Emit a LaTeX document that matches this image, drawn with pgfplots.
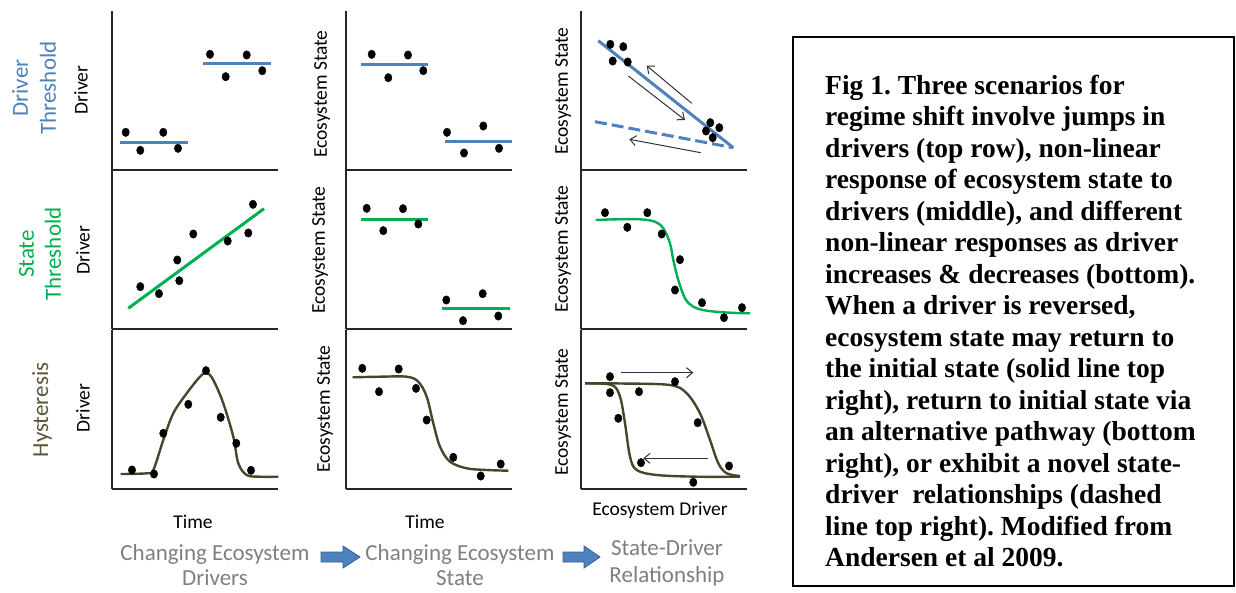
\documentclass[border=0pt]{standalone}
\usepackage{fontspec}
\setmainfont{Carlito}
\newfontfamily\tnr{Liberation Serif}
\usepackage{pgfplots}
\pgfplotsset{compat=1.18}
\usetikzlibrary{arrows.meta}
\definecolor{oblue}{HTML}{4F81BD}
\definecolor{oblueD}{HTML}{385D8A}
\definecolor{ogreen}{HTML}{00B050}
\definecolor{olive}{HTML}{4A452A}
\definecolor{olivet}{HTML}{5C5638}
\definecolor{tgray}{HTML}{7F7F7F}
\pgfplotsset{
  panel/.style={scale only axis, width=166pt, height=159pt,
    xmin=0, xmax=166, ymin=0, ymax=159,
    axis x line=bottom, axis y line=left,
    axis line style={-, line width=1.8pt, black!85},
    xtick=\empty, ytick=\empty, clip=false, anchor=south west},
  dots/.style={only marks, mark=*, mark size=3.7pt, black, mark options={yscale=1.15}},
  fitline/.style={no marks, line width=3pt},
  curve/.style={no marks, smooth, tension=0.55, line width=2.4pt, olive},
  thinarrow/.style={no marks, line width=1pt, black!80, -{Straight Barb[length=6pt,width=10pt]}}
}
\newcommand{\axlab}[3]{\node[rotate=90, font=\fontsize{19.5pt}{23pt}\selectfont] at (#1pt,-#2pt) {#3};}
\newcommand{\flowtext}[3]{\node[anchor=base, inner sep=0pt, text=tgray, font=\fontsize{23pt}{28pt}\selectfont] at (#1pt,-#2pt) {#3};}
\begin{document}
\frenchspacing
\begin{tikzpicture}
\useasboundingbox (0pt,0pt) rectangle (1236pt,-592pt);
% ---------------- Row 1 ----------------
\begin{axis}[panel, at={(112pt,-170pt)}]
\addplot[dots] coordinates {(13.7,37.7) (28.3,19.7) (51.3,37.7) (66,21.7) (98,115.7) (113.7,93.3) (134.7,115) (150.3,99.3)};
\addplot[fitline, oblue] coordinates {(8,28) (76.3,28)};
\addplot[fitline, oblue] coordinates {(91.3,106.7) (158.7,106.7)};
\end{axis}
\begin{axis}[panel, at={(346pt,-170pt)}]
\addplot[dots] coordinates {(25.7,115.7) (42.3,92.3) (62,115) (77.3,99.3) (101,37.7) (118,17) (137.3,44) (153,21.7)};
\addplot[fitline, oblue] coordinates {(14.7,106) (82.3,106)};
\addplot[fitline, oblue] coordinates {(99,28.3) (166.3,28.3)};
\end{axis}
\begin{axis}[panel, at={(581pt,-170pt)}]
\addplot[fitline, oblue] coordinates {(17.3,129.3) (152.3,22.3)};
\addplot[fitline, oblue, dash pattern=on 12pt off 5pt] coordinates {(14,48.3) (152.3,22.3)};
\addplot[thinarrow] coordinates {(47.3,94) (104,50)};
\addplot[thinarrow] coordinates {(110.7,66.7) (65.7,104.3)};
\addplot[thinarrow] coordinates {(119.7,17.3) (48.3,30.7)};
\addplot[dots] coordinates {(29.3,125.7) (42.3,123.3) (31.7,109) (46.7,108) (129.3,47.3) (138.3,42.3) (125,39) (131.7,32.3)};
\end{axis}
% ---------------- Row 2 ----------------
\begin{axis}[panel, at={(112pt,-329pt)}]
\addplot[fitline, ogreen] coordinates {(16.3,20.7) (152,120.3)};
\addplot[dots] coordinates {(28.3,42.3) (47,35.3) (67.3,48.3) (65.3,69) (81.3,95) (115.7,88) (136.3,96) (141,124.7)};
\end{axis}
\begin{axis}[panel, at={(346pt,-329pt)}]
\addplot[fitline, ogreen] coordinates {(15,109.7) (82.3,109.7)};
\addplot[fitline, ogreen] coordinates {(96.3,20.3) (164,20.3)};
\addplot[dots] coordinates {(20.7,120.7) (37.3,98.3) (57,120.3) (72.3,105) (100.3,29) (117,8.3) (136.7,35.3) (152.3,13)};
\end{axis}
\begin{axis}[panel, at={(581pt,-329pt)}]
\addplot[curve, ogreen] coordinates {(14.7,109) (35.7,109.7) (59,109.7) (74,107.3) (82.3,100.7) (89,85.7) (92.3,69) (97.3,49) (104,30.7) (112.3,22.3) (125.7,18.3) (149,16.3) (169,15.7)};
\addplot[dots] coordinates {(24,116.3) (46.3,101.7) (66.3,116.3) (80.7,95) (99,69.3) (94,39) (121,26.3) (143,11.3) (161,21.3)};
\end{axis}
% ---------------- Row 3 ----------------
\begin{axis}[panel, at={(112pt,-489pt)}]
\addplot[curve] coordinates {(8.7,15) (34.7,15.7) (41.3,19) (51.3,49) (61.3,75.7) (74.7,95.7) (88,112.3) (94.7,116.3) (101.3,109) (111.3,85.7) (121.3,52.3) (126.3,25.7) (134.7,14) (148,12.3) (166.3,12.3)};
\addplot[dots] coordinates {(20,19) (42,15) (51.3,55.7) (76.3,84.7) (94,118.3) (108.7,71.7) (124.3,45.7) (139,18.7)};
\end{axis}
\begin{axis}[panel, at={(346pt,-489pt)}]
\addplot[curve] coordinates {(6.7,111.7) (34,112.3) (60.7,112.3) (72.3,107.3) (80.7,92.3) (87.3,65.7) (94,42.3) (104,27.3) (120.7,20.7) (140.7,19) (162.3,18.3)};
\addplot[dots] coordinates {(16.3,120.7) (33,97.3) (52.7,120) (70,100.7) (80.7,69) (107.3,31.7) (134.7,13) (154.7,25)};
\end{axis}
\begin{axis}[panel, at={(581pt,-489pt)}]
\addplot[curve] coordinates {(4,105.7) (40,105.5) (89,104) (105.7,95.7) (119,75.7) (129,49) (137.3,25.7) (145.7,15.7) (159,13)};
\addplot[curve] coordinates {(4,105.7) (30.7,104) (39,92.3) (44,65.7) (49,32.3) (55.7,19) (75.7,14) (115.7,12.3) (159,12.3)};
\addplot[thinarrow] coordinates {(39.7,116.3) (112.3,116.3)};
\addplot[thinarrow] coordinates {(127.3,30.7) (62.3,30.7)};
\addplot[dots] coordinates {(29,112.3) (29,96.3) (37.3,70.7) (58,97.3) (94,107.3) (116.7,66.3) (60,26.3) (148,23) (112.3,6.7)};
\end{axis}
% ---------------- axis labels ----------------
\axlab{81}{90}{Driver}
\axlab{322}{94}{Ecosystem State}
\axlab{563}{91}{Ecosystem State}
\axlab{83}{250}{Driver}
\axlab{320}{250}{Ecosystem State}
\axlab{563}{249}{Ecosystem State}
\axlab{83}{408}{Driver}
\axlab{325}{409}{Ecosystem State}
\axlab{563}{412}{Ecosystem State}
\node[font=\fontsize{19.5pt}{23pt}\selectfont] at (193pt,-522pt) {Time};
\node[font=\fontsize{19.5pt}{23pt}\selectfont] at (425pt,-522pt) {Time};
\node[font=\fontsize{19.5pt}{23pt}\selectfont] at (660pt,-510pt) {Ecosystem Driver};
% ---------------- row titles ----------------
\node[rotate=90, align=center, text=oblue, font=\fontsize{23pt}{28pt}\selectfont] at (34pt,-88pt) {Driver\\Threshold};
\node[rotate=90, align=center, text=ogreen, font=\fontsize{23pt}{27pt}\selectfont] at (40pt,-254pt) {State\\Threshold};
\node[rotate=90, text=olivet, font=\fontsize{23pt}{27pt}\selectfont] at (42pt,-410pt) {Hysteresis};
% ---------------- bottom flow ----------------
\flowtext{215}{560}{Changing Ecosystem}
\flowtext{215}{585}{Drivers}
\flowtext{460}{560}{Changing Ecosystem}
\flowtext{460}{585}{State}
\flowtext{667}{555}{State-Driver}
\flowtext{667}{582}{Relationship}
\filldraw[fill=oblue, draw=oblueD, line width=0.8pt] (321pt,-552pt) -- (343pt,-552pt) -- (343pt,-546pt) -- (360pt,-557pt) -- (343pt,-568pt) -- (343pt,-562pt) -- (321pt,-562pt) -- cycle;
\filldraw[fill=oblue, draw=oblueD, line width=0.8pt] (563pt,-552pt) -- (584pt,-552pt) -- (584pt,-546pt) -- (600pt,-557pt) -- (584pt,-568pt) -- (584pt,-562pt) -- (563pt,-562pt) -- cycle;
% ---------------- caption box ----------------
\draw[line width=2pt] (793pt,-37pt) rectangle (1234pt,-586pt);
\begin{scope}[every node/.style={anchor=base west, inner sep=0pt, font=\tnr\bfseries\fontsize{27.5pt}{31.5pt}\selectfont}]
\node at (825pt,-94pt) {Fig 1. Three scenarios for};
\node at (825pt,-125.5pt) {regime shift involve jumps in};
\node at (825pt,-157pt) {drivers (top row), non-linear};
\node at (825pt,-188.5pt) {response of ecosystem state to};
\node at (825pt,-220pt) {drivers (middle), and different};
\node at (825pt,-251.5pt) {non-linear responses as driver};
\node at (825pt,-283pt) {increases \& decreases (bottom).};
\node at (825pt,-314.5pt) {When a driver is reversed,};
\node at (825pt,-346pt) {ecosystem state may return to};
\node at (825pt,-377.5pt) {the initial state (solid line top};
\node at (825pt,-409pt) {right), return to initial state via};
\node at (825pt,-440.5pt) {an alternative pathway (bottom};
\node at (825pt,-472pt) {right), or exhibit a novel state-};
\node at (825pt,-503.5pt) {driver\ \ relationships (dashed};
\node at (825pt,-535pt) {line top right). Modified from};
\node at (825pt,-566.5pt) {Andersen et al 2009.};
\end{scope}
\end{tikzpicture}
\end{document}
